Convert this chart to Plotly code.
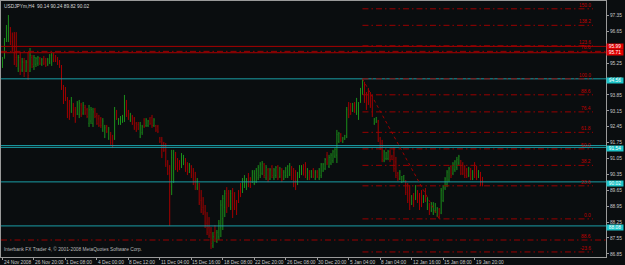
import plotly.graph_objects as go

# ---------------- data (USDJPYm, H4) ----------------
opens = [
    95.10, 95.45, 96.30, 96.45, 96.80, 96.20, 96.40, 95.50, 95.00, 95.50,
    94.95, 95.30, 94.90, 95.30, 94.90, 95.50, 95.10, 95.20, 95.25, 95.45,
    95.20, 95.45, 95.30, 95.20, 95.30, 95.30, 95.60, 95.55, 95.40, 95.30,
    95.10, 94.20, 93.90, 93.60, 93.40, 93.10, 93.40, 93.20, 93.00, 93.00,
    93.40, 93.05, 93.30, 93.20, 92.60, 92.70, 92.60, 93.20, 92.95, 92.80,
    92.80, 92.30, 92.00, 92.45, 91.95, 92.10, 91.90, 91.90, 93.10, 92.60,
    92.60, 92.70, 92.80, 93.50, 93.10, 92.75, 92.90, 92.80, 92.60, 92.55,
    92.00, 92.20, 92.75, 92.50, 92.50, 92.80, 92.85, 92.50, 92.50, 92.45,
    91.95, 91.90, 91.70, 91.60, 90.90, 90.40, 89.80, 90.50, 91.20, 91.00,
    90.90, 90.70, 90.80, 91.00, 90.80, 90.45, 90.70, 90.50, 90.10, 89.75,
    89.95, 89.20, 88.90, 88.70, 88.20, 88.00, 87.80, 87.20, 87.80, 87.40,
    87.60, 88.00, 88.40, 88.90, 89.50, 89.50, 88.90, 89.50, 89.40, 89.10,
    89.50, 89.80, 89.60, 89.85, 89.80, 90.30, 90.10, 90.00, 89.95, 90.05,
    90.20, 90.30, 90.40, 90.80, 90.20, 90.55, 90.15, 90.70, 90.20, 90.30,
    90.70, 90.25, 90.55, 90.15, 90.30, 90.30, 90.35, 90.65, 90.30, 90.10,
    89.95, 90.30, 90.40, 90.70,
    90.80, 90.20, 90.45, 90.25, 90.55, 90.15, 90.45,
    90.20, 90.30, 90.50, 90.60, 91.20, 90.70, 90.85, 90.95, 91.15, 91.20,
    91.80, 92.10, 91.80, 91.90, 92.00, 93.40, 93.35, 93.15, 93.45, 93.10,
    92.90, 93.55, 94.00, 94.40, 93.90, 94.00, 93.90, 93.70, 92.60, 92.65,
    92.70, 91.95, 91.70, 90.95, 91.05, 91.05, 91.35, 91.15, 91.30, 90.90,
    90.40,
    90.15, 90.00, 90.05, 90.00, 89.90, 89.50, 89.05, 89.45, 89.30, 89.60,
    89.40, 89.50, 89.15, 89.65, 88.90, 89.00, 88.75, 88.65, 88.75, 88.55,
    88.80, 88.65, 89.20, 89.75, 89.90, 90.10, 90.70, 90.40, 90.55, 90.65,
    90.85, 90.95, 90.80, 90.70, 90.55, 90.30, 90.55, 90.15, 90.80, 90.60,
    90.25, 90.40, 90.14,
]
highs = [
    95.52, 96.36, 96.93, 97.37, 96.84, 96.60, 96.62, 96.62, 95.61, 95.74,
    95.48, 95.48, 95.39, 95.74, 95.92, 95.61, 95.61, 95.52, 95.57, 95.52,
    95.48, 95.57, 95.48, 95.48, 95.65, 95.70, 95.70, 95.61, 95.52, 95.39,
    95.17, 94.29, 94.20, 93.76, 93.63, 93.76, 93.50, 93.32, 93.58, 93.63,
    93.50, 93.54, 93.41, 93.28, 93.41, 93.32, 93.28, 93.28, 93.06, 92.97,
    92.88, 92.83, 92.53, 92.53, 92.44, 92.22, 92.09, 93.32, 93.19, 92.83,
    92.92, 92.97, 93.85, 93.63, 93.19, 93.06, 92.97, 92.88, 92.66, 92.66,
    92.66, 92.53, 92.83, 92.83, 92.75, 92.88, 92.97, 92.83, 92.53, 92.53,
    92.00, 92.00, 91.78, 91.73, 90.98, 90.76, 91.43, 91.43, 91.34, 91.07,
    90.98, 91.29, 91.21, 91.07, 90.89, 90.85, 90.76, 90.63, 90.46, 90.19,
    89.97, 89.66, 89.35, 89.00, 88.69, 88.47, 88.03, 87.81, 88.12, 87.90,
    88.34, 89.22, 89.44, 89.66, 89.79, 89.66, 89.66, 89.75, 89.57, 89.22,
    89.66, 89.97, 90.19, 90.32, 90.19, 90.41, 90.23, 90.54, 90.54, 90.63,
    90.76, 90.89, 90.94, 90.85, 90.76, 90.63, 90.63, 90.76, 90.63, 90.72,
    90.76, 90.68, 90.63, 90.54, 90.68, 90.76, 90.85, 90.72, 90.63, 90.54,
    90.46, 90.76, 90.76, 90.80,
    90.89, 90.63, 90.54, 90.54, 90.63, 90.54, 90.54,
    90.63, 90.85, 90.85, 91.07, 91.34, 91.21, 91.29, 91.43, 91.51, 92.31,
    92.22, 92.17, 92.00, 92.09, 93.32, 93.54, 93.50, 93.50, 93.54, 93.72,
    93.54, 94.16, 94.56, 94.42, 93.98, 94.16, 93.98, 93.85, 92.83, 92.88,
    92.75, 92.00, 91.87, 91.43, 91.34, 91.43, 91.43, 91.21, 91.56, 91.12,
    90.46,
    90.54, 90.28, 90.32, 90.10, 89.97, 89.88, 89.44, 89.53, 89.88, 89.66,
    89.53, 89.66, 89.44, 89.75, 89.35, 89.09, 89.13, 89.13, 89.09, 88.91,
    88.87, 89.75, 89.88, 90.23, 90.54, 90.68, 90.76, 90.89, 90.98, 91.12,
    91.21, 90.98, 90.89, 90.76, 90.63, 90.68, 90.63, 90.54, 90.89, 90.72,
    90.54, 90.46, 90.24,
]
lows = [
    95.04, 95.45, 96.18, 96.18, 96.05, 95.75, 95.17, 95.08, 94.86, 94.73,
    94.86, 94.64, 94.86, 94.51, 94.86, 95.04, 94.95, 95.08, 95.13, 95.17,
    95.13, 95.17, 95.08, 95.13, 95.21, 95.13, 95.30, 95.30, 95.17, 95.04,
    94.07, 93.45, 93.58, 92.83, 92.75, 93.06, 92.88, 92.62, 92.97, 92.83,
    92.88, 92.97, 92.97, 92.83, 92.44, 92.57, 92.44, 92.83, 92.53, 92.44,
    92.40, 92.22, 91.95, 92.17, 91.87, 91.65, 91.51, 91.87, 92.75, 92.53,
    92.53, 92.62, 92.66, 92.88, 92.75, 92.66, 92.53, 92.31, 92.22, 92.31,
    91.95, 92.09, 92.40, 92.44, 92.44, 92.53, 92.40, 92.44, 92.22, 92.17,
    91.73, 91.07, 91.34, 90.68, 90.32, 88.08, 89.44, 89.97, 90.54, 90.46,
    90.54, 90.63, 90.76, 90.46, 90.32, 90.41, 90.19, 89.88, 89.66, 89.66,
    89.00, 88.65, 88.56, 87.99, 87.68, 87.55, 87.06, 87.11, 87.37, 87.33,
    87.46, 87.59, 87.90, 88.47, 88.65, 88.91, 88.78, 88.43, 88.78, 88.56,
    89.09, 89.35, 89.53, 89.75, 89.66, 89.79, 89.75, 89.97, 89.88, 89.97,
    90.10, 90.19, 90.32, 90.19, 90.10, 90.01, 90.10, 90.19, 90.10, 90.19,
    90.10, 90.19, 90.01, 90.10, 90.19, 90.19, 90.28, 90.10, 89.79, 89.66,
    89.88, 90.19, 90.32, 90.30,
    90.19, 90.10, 90.10, 90.19, 90.19, 90.10, 90.19,
    90.10, 90.19, 90.46, 90.54, 90.76, 90.63, 90.76, 90.85, 91.07, 90.85,
    91.73, 91.78, 91.73, 91.87, 91.95, 92.83, 92.97, 93.10, 93.06, 92.97,
    92.75, 93.50, 93.85, 93.50, 93.19, 93.41, 93.28, 92.88, 92.53, 92.62,
    91.78, 91.43, 90.89, 90.89, 90.98, 90.98, 90.89, 90.98, 90.46, 90.19,
    90.05,
    90.10, 89.97, 90.01, 89.44, 89.09, 88.78, 89.00, 88.91, 89.22, 89.09,
    88.78, 88.91, 89.09, 89.13, 88.78, 88.56, 88.69, 88.56, 88.65, 88.47,
    88.39, 88.60, 89.13, 89.66, 89.79, 90.01, 90.19, 90.32, 90.46, 90.54,
    90.76, 90.32, 90.32, 90.19, 90.19, 90.23, 90.10, 90.10, 90.19, 90.10,
    90.19, 89.84, 89.82,
]
closes = [
    95.45, 96.30, 96.80, 96.80, 96.20, 95.90, 95.40, 95.20, 95.50, 94.90,
    95.30, 94.80, 95.30, 94.70, 95.60, 95.20, 95.50, 95.45, 95.50, 95.25,
    95.40, 95.25, 95.15, 95.40, 95.60, 95.60, 95.40, 95.35, 95.25, 95.10,
    94.20, 93.60, 93.70, 92.95, 92.90, 93.60, 93.00, 92.70, 93.45, 93.50,
    93.00, 93.40, 93.05, 92.90, 93.20, 93.20, 93.10, 92.90, 92.60, 92.50,
    92.50, 92.70, 92.40, 92.25, 92.35, 91.75, 91.60, 93.10, 92.85, 92.80,
    92.85, 92.90, 93.50, 93.00, 92.85, 93.00, 92.60, 92.40, 92.30, 92.35,
    92.50, 92.45, 92.45, 92.75, 92.70, 92.60, 92.50, 92.75, 92.30, 92.25,
    91.80, 91.20, 91.40, 90.80, 90.40, 89.80, 91.10, 91.20, 90.70, 90.55,
    90.60, 91.20, 91.10, 90.55, 90.40, 90.75, 90.30, 90.00, 89.80, 90.05,
    89.10, 88.80, 88.65, 88.10, 87.80, 87.65, 87.30, 87.60, 87.50, 87.80,
    88.20, 89.00, 89.30, 89.50, 88.90, 89.00, 89.50, 88.70, 88.90, 88.70,
    89.20, 89.50, 90.10, 90.20, 90.10, 89.90, 89.85, 90.45, 90.40, 90.50,
    90.65, 90.80, 90.85, 90.30, 90.65, 90.10, 90.55, 90.30, 90.55, 90.65,
    90.20, 90.60, 90.10, 90.45, 90.60, 90.70, 90.75, 90.20, 89.95, 89.80,
    90.40, 90.70, 90.70, 90.40,
    90.30, 90.55, 90.20, 90.50, 90.25, 90.45, 90.25,
    90.55, 90.80, 90.80, 91.00, 90.85, 91.10, 91.20, 91.35, 91.45, 92.10,
    92.15, 91.85, 91.95, 92.05, 93.20, 93.00, 93.05, 93.45, 93.10, 93.60,
    93.50, 94.10, 94.45, 93.60, 93.30, 93.50, 93.40, 93.00, 92.80, 92.85,
    91.90, 91.50, 91.00, 91.35, 91.30, 91.35, 91.00, 91.00, 90.60, 90.30,
    90.15,
    90.45, 90.25, 90.30, 89.55, 89.20, 89.00, 89.35, 89.00, 89.80, 89.20,
    88.90, 89.00, 89.40, 89.25, 89.30, 88.65, 89.05, 89.00, 89.00, 88.85,
    88.50, 89.65, 89.80, 90.15, 90.45, 90.60, 90.30, 90.80, 90.90, 91.00,
    91.15, 90.40, 90.40, 90.30, 90.25, 90.60, 90.15, 90.45, 90.25, 90.20,
    90.50, 89.95, 90.02,
]
bars = list(range(len(closes)))

time_label_bars = [0, 16, 32, 48, 64, 80, 96, 112, 128, 144, 160, 176, 192, 208, 224, 240]
time_labels = ["24 Nov 2008", "26 Nov 20:00", "1 Dec 08:00", "4 Dec 00:00", "8 Dec 12:00",
               "11 Dec 04:00", "15 Dec 16:00", "18 Dec 08:00", "22 Dec 20:00", "26 Dec 08:00",
               "30 Dec 20:00", "5 Jan 04:00", "8 Jan 04:00", "12 Jan 16:00", "15 Jan 08:00",
               "19 Jan 20:00"]

price_ticks = [86.85, 87.55, 88.25, 88.95, 89.65, 90.35, 91.05, 91.75, 92.45,
               93.15, 93.85, 94.55, 95.25, 95.95, 96.65, 97.35]

red_hlines = [95.99, 95.71]
red_dashdot_hlines = [95.77, 87.46]
red_dashdot_labels = ["78.6", "88.6"]
cyan_hlines = [94.56, 91.62, 91.54, 90.02, 88.08]
cyan_boxes = [94.56, 91.54, 90.02, 88.08]
red_boxes = [95.99, 95.71]

fibo_bars = [183, 222]          # high bar, low bar
fibo_levels = [-23.6, 0.0, 23.6, 38.2, 50.0, 61.8, 76.4, 88.6, 100.0, 123.6, 138.2, 150.0]
fibo_end_bar = 300.2

# ---------------- styling ----------------
BG = "#0a0d0f"
GREEN = "#1b8f1b"
RED = "#a30000"
FIB = "#990000"
CYAN = "#1a9ea6"
AX = "#9a9a9a"
TXT = "#c8c8c8"
FONT = "Liberation Sans"
FS = 4.8
DASHDOT = "6px,3px,1.5px,3px"

fig = go.Figure()
fig.add_trace(go.Ohlc(
    x=bars, open=opens, high=highs, low=lows, close=closes,
    increasing=dict(line=dict(color=GREEN, width=1)),
    decreasing=dict(line=dict(color=RED, width=1)),
    tickwidth=0.2, hoverinfo="skip", showlegend=False,
))

shapes = []
annotations = []

for v in red_hlines:
    shapes.append(dict(type="line", xref="paper", x0=0, x1=1, yref="y", y0=v, y1=v,
                       line=dict(color="#a80000", width=1)))
for v in red_dashdot_hlines:
    shapes.append(dict(type="line", xref="paper", x0=0, x1=1, yref="y", y0=v, y1=v,
                       line=dict(color=FIB, width=1, dash=DASHDOT)))
for v, t in zip(red_dashdot_hlines, red_dashdot_labels):
    annotations.append(dict(x=fibo_end_bar, y=v, xref="x", yref="y", text=t, showarrow=False,
                            xanchor="right", yanchor="bottom", yshift=-1,
                            font=dict(family=FONT, size=FS, color="#c00000")))
for v in cyan_hlines:
    shapes.append(dict(type="line", xref="paper", x0=0, x1=1, yref="y", y0=v, y1=v,
                       line=dict(color=CYAN, width=1)))

# Fibonacci retracement
f_hi = highs[fibo_bars[0]]
f_lo = lows[fibo_bars[1]]
for lv in fibo_levels:
    yv = f_lo + (f_hi - f_lo) * lv / 100.0
    shapes.append(dict(type="line", xref="x", x0=fibo_bars[0], x1=fibo_end_bar, yref="y",
                       y0=yv, y1=yv, line=dict(color=FIB, width=1, dash=DASHDOT)))
    annotations.append(dict(x=fibo_end_bar, y=yv, xref="x", yref="y", text=f"{lv:.1f}",
                            showarrow=False, xanchor="right", yanchor="bottom", yshift=-1,
                            font=dict(family=FONT, size=FS, color="#c00000")))
shapes.append(dict(type="line", xref="x", yref="y", x0=fibo_bars[0], y0=f_hi,
                   x1=fibo_bars[1], y1=f_lo, line=dict(color=FIB, width=1, dash="dot")))

# price boxes on the scale
for v in red_boxes:
    annotations.append(dict(x=1, y=v, xref="paper", yref="y", text=f"{v:.2f}", showarrow=False,
                            xanchor="left", yanchor="middle", bgcolor="#e00000", width=16, height=5,
                            borderpad=0, font=dict(family=FONT, size=FS, color="white")))
for v in cyan_boxes:
    annotations.append(dict(x=1, y=v, xref="paper", yref="y", text=f"{v:.2f}", showarrow=False,
                            xanchor="left", yanchor="top", yshift=2, bgcolor="#1cc4c8",
                            width=16, height=5, borderpad=0,
                            font=dict(family=FONT, size=FS, color="white")))

# time labels
for b, t in zip(time_label_bars, time_labels):
    annotations.append(dict(x=b, y=0, xref="x", yref="paper", text=t, showarrow=False,
                            xanchor="left", yanchor="top", xshift=-1, yshift=-1,
                            font=dict(family=FONT, size=FS, color=TXT)))

# header and footer
title = f"USDJPYm,H4  {opens[-1]:.2f} {highs[-1]:.2f} {lows[-1]:.2f} {closes[-1]:.2f}"
annotations.append(dict(x=0, y=1, xref="paper", yref="paper", text=title, showarrow=False,
                        xanchor="left", yanchor="top", xshift=1, yshift=-1,
                        font=dict(family=FONT, size=FS, color="#d8d8d8")))
annotations.append(dict(x=0, y=0, xref="paper", yref="paper",
                        text="Interbank FX Trader 4, © 2001-2008 MetaQuotes Software Corp.",
                        showarrow=False, xanchor="left", yanchor="bottom", xshift=1, yshift=3,
                        font=dict(family=FONT, size=FS, color="#b8b8b8")))

fig.update_layout(
    width=625, height=265,
    margin=dict(l=1, r=19, t=1, b=8, pad=0),
    paper_bgcolor=BG, plot_bgcolor=BG,
    shapes=shapes, annotations=annotations,
    showlegend=False,
    xaxis=dict(range=[-0.763, 306.8], showgrid=False, zeroline=False, showline=True,
               linecolor=AX, linewidth=1, mirror=True, ticks="outside", ticklen=2,
               tickcolor=AX, tickvals=time_label_bars, showticklabels=False,
               rangeslider=dict(visible=False), fixedrange=True),
    yaxis=dict(side="right", range=[86.711, 97.989], showgrid=False, zeroline=False,
               showline=True, linecolor=AX, linewidth=1, mirror=True, ticks="outside",
               ticklen=2, tickcolor=AX, tickvals=price_ticks,
               ticktext=[f"{v:.2f}" for v in price_ticks],
               tickfont=dict(family=FONT, size=FS, color=TXT), fixedrange=True),
)

fig.write_html("out.html", config={"displayModeBar": False, "staticPlot": True})
